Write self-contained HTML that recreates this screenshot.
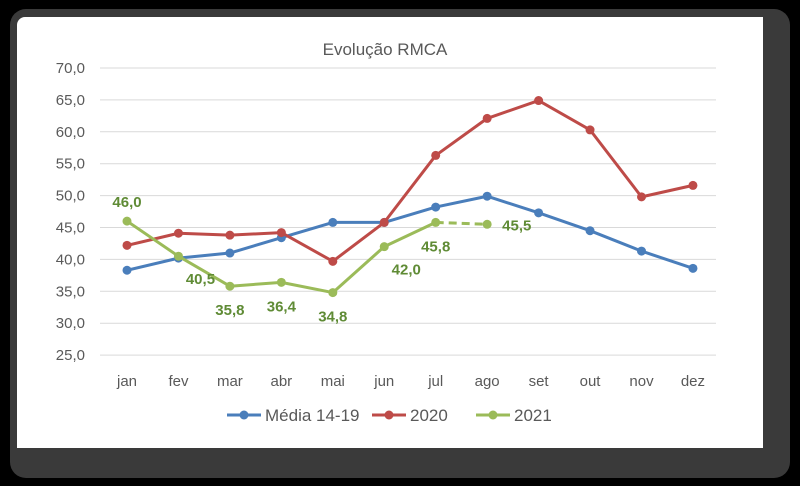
<!DOCTYPE html>
<html><head><meta charset="utf-8"><style>
html,body{margin:0;padding:0;background:#000;}
#wrap{position:relative;width:800px;height:486px;background:#000;overflow:hidden;}
#frame{position:absolute;left:10px;top:9px;width:780px;height:469px;background:#3a3a3a;border-radius:16px;}
#card{position:absolute;left:17px;top:17px;width:746px;height:431px;background:#fff;border-radius:8px 0 0 0;}
svg{position:absolute;left:0;top:0;font-family:"Liberation Sans",sans-serif;}
</style></head><body>
<div id="wrap">
<div id="frame"></div>
<div id="card"></div>
<svg id="chart" width="800" height="486"></svg>
</div>
<script>
const categories=["jan","fev","mar","abr","mai","jun","jul","ago","set","out","nov","dez"];
const media=[38.3,40.2,41.0,43.4,45.8,45.8,48.2,49.9,47.3,44.5,41.3,38.6];
const y2020=[42.2,44.1,43.8,44.2,39.7,45.8,56.3,62.1,64.9,60.3,49.8,51.6];
const y2021=[46.0,40.5,35.8,36.4,34.8,42.0,45.8,45.5];
const yTicks=[25,30,35,40,45,50,55,60,65,70];
const labelPos=["above","belowright","below","below","below","belowright","below","right"];
const NS="http://www.w3.org/2000/svg";
const svg=document.getElementById('chart');
const X0=127,XS=51.45,Y70=68,PX=31.9/5;
const xs=i=>X0+i*XS, ys=v=>Y70+(70-v)*PX;
function el(t,a,p){const e=document.createElementNS(NS,t);for(const k in a)e.setAttribute(k,a[k]);(p||svg).appendChild(e);return e;}
const fmt=v=>v.toFixed(1).replace('.',',');
const title=el('text',{x:385,y:55,'text-anchor':'middle','font-size':17,fill:'#595959'});title.textContent="Evolução RMCA";


yTicks.forEach(t=>{
 const g=el('line',{x1:100,x2:716,y1:ys(t),y2:ys(t),stroke:'#d9d9d9','stroke-width':1});
 
 
 const l=el('text',{x:85,y:ys(t)+5,'text-anchor':'end','font-size':15,fill:'#595959'});l.textContent=fmt(t);
 
 
});
categories.forEach((c,i)=>{
 const l=el('text',{x:xs(i),y:386,'text-anchor':'middle','font-size':15,fill:'#595959'});l.textContent=c;
 
 
});
function series(data,color,name,dashFrom){
 const pts=data.map((v,i)=>[xs(i),ys(v)]);
 const n=dashFrom==null?pts.length:dashFrom+1;
 const p=el('polyline',{points:pts.slice(0,n).join(' '),fill:'none',stroke:color,'stroke-width':3,'stroke-linejoin':'round'});
 
 
 if(dashFrom!=null){
  const d=el('polyline',{points:pts.slice(dashFrom).join(' '),fill:'none',stroke:color,'stroke-width':3,'stroke-dasharray':'8,5'});
  
  
 }
 pts.forEach(q=>{const c=el('circle',{cx:q[0],cy:q[1],r:4.5,fill:color});
  
  });
}
series(media,'#4a7ebb','media');
series(y2020,'#be4b48','y2020');
series(y2021,'#9bbb59','y2021',6);
y2021.forEach((v,i)=>{
 let x=xs(i),y=ys(v),a='middle';
 const pos=labelPos[i];
 if(pos==='above'){y-=14;}
 else if(pos==='below'){y+=29;}
 else if(pos==='belowright'){x+=22;y+=28;}
 else if(pos==='right'){x+=15;y+=6;a='start';}
 const t=el('text',{x:x,y:y,'text-anchor':a,'font-size':15,'font-weight':'bold',fill:'#5f8b35'});t.textContent=fmt(v);
 
 
});
const legend=[["Média 14-19",'#4a7ebb',227],["2020",'#be4b48',372],["2021",'#9bbb59',476]];
legend.forEach(([n,c,x])=>{
 const g=el('g',{});
 
 
 el('line',{x1:x,x2:x+34,y1:415,y2:415,stroke:c,'stroke-width':3},g);
 el('circle',{cx:x+17,cy:415,r:4.5,fill:c},g);
 const t=el('text',{x:x+38,y:421,'font-size':17,fill:'#595959'},g);t.textContent=n;
});
</script>
</body></html>
